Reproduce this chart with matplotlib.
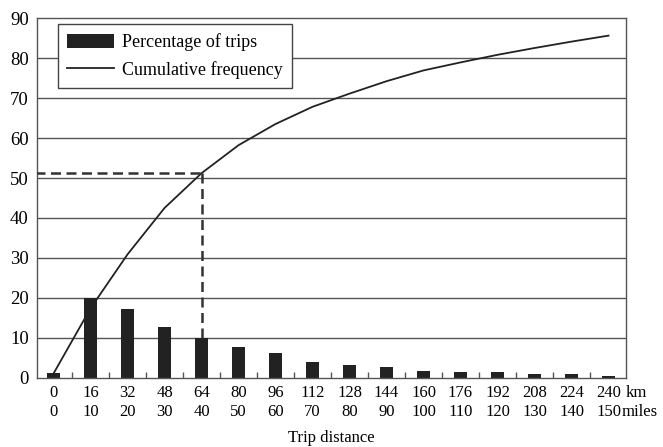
import matplotlib
matplotlib.use("Agg")
import matplotlib.pyplot as plt
from matplotlib.transforms import offset_copy
import numpy as np

# Trip distance classes
km_labels = ["0", "16", "32", "48", "64", "80", "96", "112", "128", "144",
             "160", "176", "192", "208", "224", "240"]
mile_labels = ["0", "10", "20", "30", "40", "50", "60", "70", "80", "90",
               "100", "110", "120", "130", "140", "150"]

# Percentage of trips in each distance class
pct_trips = [1.3, 20.1, 17.2, 12.8, 10.1, 7.7, 6.2, 3.9, 3.3, 2.8,
             1.8, 1.4, 1.4, 1.0, 1.0, 0.6]

# Cumulative frequency (%) at each distance
cum_freq = [1.1, 17.4, 30.9, 42.5, 51.2, 58.2, 63.5, 67.8, 71.1, 74.2,
            76.9, 78.9, 80.8, 82.5, 84.1, 85.6]

# Highlighted reading on the cumulative curve (64 km / 40 miles)
mark_idx = 4

plt.rcParams["font.family"] = ["Liberation Serif", "DejaVu Serif"]
plt.rcParams["font.size"] = 13

fig = plt.figure(figsize=(6.63, 4.47), dpi=100)
ax = fig.add_axes([0.0558, 0.1544, 0.8883, 0.8053])

x = np.arange(len(km_labels))
ink = "#222222"
grid_c = "#555555"

# Horizontal grid lines
for yv in range(10, 90, 10):
    ax.axhline(yv, color=grid_c, lw=1.0, zorder=0)

bars = ax.bar(x, pct_trips, width=0.35, color=ink, zorder=2,
              label="Percentage of trips")
line, = ax.plot(x, cum_freq, color=ink, lw=1.3, zorder=3,
                solid_joinstyle="round", label="Cumulative frequency")

# Dashed reading lines
xm, ym = x[mark_idx], cum_freq[mark_idx]
ax.plot([-0.5, xm], [ym, ym], color="#333333", lw=1.8, ls=(0, (4, 2.2)),
        zorder=3)
ax.plot([xm, xm], [ym, pct_trips[mark_idx]], color="#333333", lw=1.8,
        ls=(0, (4, 2.2)), zorder=3)

ax.set_xlim(-0.446, 15.47)
ax.set_ylim(0, 90)
ax.set_yticks(range(0, 100, 10))
ax.tick_params(axis="y", length=0, pad=6, labelsize=13.5)

# Small inward ticks between the distance classes
ax.set_xticks([])
ax.set_xticks(x[:-1] + 0.5, minor=True)
ax.tick_params(axis="x", which="minor", direction="in", length=4,
               width=1.0, color=grid_c, labelbottom=False)

# Distance labels: km row and miles row
fs_x = 12
xt = ax.get_xaxis_transform()
km_tr = offset_copy(xt, fig=fig, y=-10.8, units="points")
mi_tr = offset_copy(xt, fig=fig, y=-24.5, units="points")
for xi, k, m in zip(x, km_labels, mile_labels):
    ax.text(xi, 0, k, transform=km_tr, ha="center", va="center", fontsize=fs_x)
    ax.text(xi, 0, m, transform=mi_tr, ha="center", va="center", fontsize=fs_x)
ax.text(15.45, 0, "km", transform=km_tr, ha="left", va="center", fontsize=fs_x)
ax.text(15.36, 0, "miles", transform=mi_tr, ha="left", va="center",
        fontsize=fs_x)
ax.text(0.5, 0, "Trip distance", transform=offset_copy(
    ax.transAxes, fig=fig, y=-43.5, units="points"),
    ha="center", va="center", fontsize=fs_x)

for s in ax.spines.values():
    s.set_color(grid_c)
    s.set_linewidth(1.0)

leg = ax.legend(handles=[bars, line], loc="upper left",
                bbox_to_anchor=(0.036, 0.983), fancybox=False,
                framealpha=1, edgecolor="#444444", handlelength=2.6,
                handleheight=0.85, handletextpad=0.45, borderpad=0.5,
                labelspacing=0.55, borderaxespad=0, fontsize=13)
leg.get_frame().set_linewidth(1.0)

fig.savefig("out.png", dpi=100, facecolor="white")
